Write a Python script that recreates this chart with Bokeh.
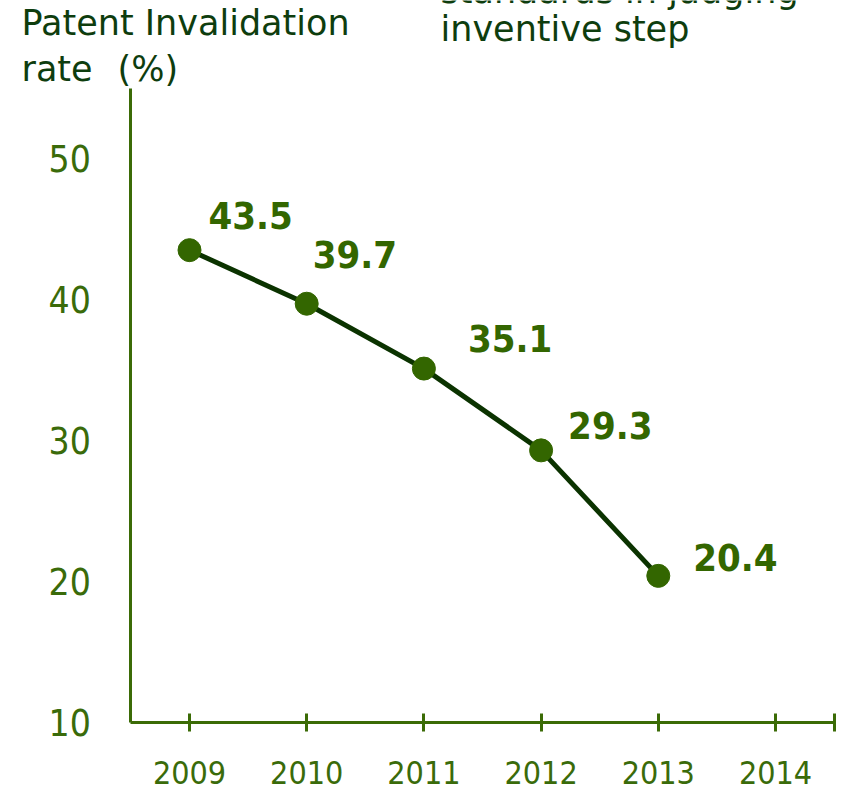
from bokeh.plotting import figure
from bokeh.models import Range1d, FixedTicker, Label, ColumnDataSource
from bokeh.core.properties import value
from bokeh.embed import file_html
from bokeh.resources import INLINE

# ---- data ----
years = [2009, 2010, 2011, 2012, 2013]
rates = [43.5, 39.7, 35.1, 29.3, 20.4]
rate_labels = ["43.5", "39.7", "35.1", "29.3", "20.4"]
x_ticks = [2009, 2010, 2011, 2012, 2013, 2014]
y_ticks = [10, 20, 30, 40, 50]
x_bounds = (2008.5, 2014.5)
y_bounds = (10, 55)

# ---- style ----
FONT = "DejaVu Sans Condensed"
TFONT = "DejaVu Sans"
AXIS_C = "#3b6b06"
LABEL_C = "#3a6b0a"
TITLE_C = "#0e3d0e"
LINE_C = "#0b3300"
MARK_C = "#336600"
lbl_dx = [19, 6, 44, 27, 35]
lbl_dy = [-35, -49, -30, -25, -18]

W, H = 842, 792
PX_X = 117.2   # pixels per year
PX_Y = 14.1    # pixels per percent
x0 = 2009 - 189 / PX_X
y1 = 10 + 722 / PX_Y

p = figure(width=W, height=H, output_backend="svg", toolbar_location=None,
           x_range=Range1d(x0, x0 + W / PX_X), y_range=Range1d(y1 - H / PX_Y, y1),
           min_border=0, min_border_left=0, min_border_right=0,
           min_border_top=0, min_border_bottom=0)
p.outline_line_color = None
p.xgrid.visible = False
p.ygrid.visible = False
p.background_fill_color = "white"
p.border_fill_color = "white"

xa = p.xaxis[0]
xa.fixed_location = y_bounds[0]
xa.bounds = x_bounds
xa.ticker = FixedTicker(ticks=x_ticks, minor_ticks=[x_bounds[1]])
xa.axis_line_color = AXIS_C
xa.axis_line_width = 3
xa.major_tick_line_color = AXIS_C
xa.major_tick_line_width = 3
xa.major_tick_in = 9
xa.major_tick_out = 9
xa.minor_tick_line_color = AXIS_C
xa.minor_tick_line_width = 3
xa.minor_tick_in = 9
xa.minor_tick_out = 9
xa.major_label_text_font = FONT
xa.major_label_text_font_size = "32px"
xa.major_label_text_color = LABEL_C
xa.major_label_standoff = 29

ya = p.yaxis[0]
ya.fixed_location = x_bounds[0]
ya.bounds = y_bounds
ya.ticker = FixedTicker(ticks=y_ticks)
ya.axis_line_color = AXIS_C
ya.axis_line_width = 3
ya.major_tick_in = 0
ya.major_tick_out = 0
ya.minor_tick_line_color = None
ya.major_label_text_font = FONT
ya.major_label_text_font_size = "37px"
ya.major_label_text_color = LABEL_C
ya.major_label_standoff = 40

src = ColumnDataSource(dict(x=years, y=rates, t=rate_labels, dx=lbl_dx, dy=lbl_dy))
p.line("x", "y", source=src, line_color=LINE_C, line_width=5)
p.scatter("x", "y", source=src, size=23, fill_color=MARK_C, line_color=MARK_C)
p.text("x", "y", text="t", source=src, x_offset="dx", y_offset="dy",
       text_font=value(FONT), text_font_style="bold", text_font_size="38px",
       text_color=MARK_C, text_baseline="alphabetic", text_align="left")

def px2x(px):
    return x0 + px / PX_X

def px2y(py):
    return y1 - py / PX_Y

for txt, px, py in [("Patent Invalidation", 21, 22),
                    ("rate", 21, 68),
                    ("(%)", 117, 68),
                    ("standards in judging", 440, -10),
                    ("inventive step", 440, 28)]:
    p.add_layout(Label(x=px2x(px), y=px2y(py), text=txt, text_font=TFONT,
                       text_font_size="35px", text_color=TITLE_C,
                       text_baseline="alphabetic"))

open("out.html", "w").write(file_html(p, INLINE))
